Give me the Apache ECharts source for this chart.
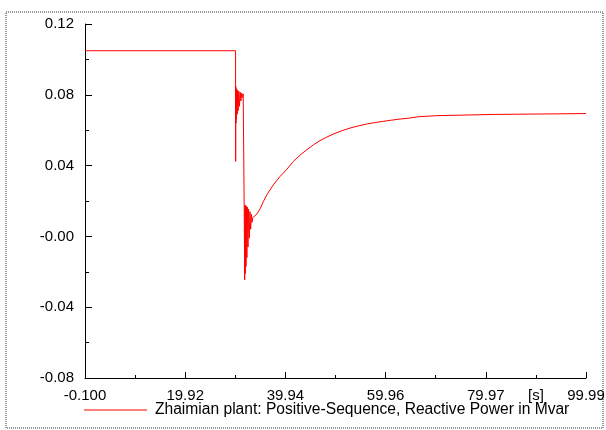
<!DOCTYPE html>
<html>
<head>
<meta charset="utf-8">
<script src="https://cdn.jsdelivr.net/npm/echarts@6.0.0/dist/echarts.min.js"></script>
<style>
  html, body { margin: 0; padding: 0; background: #fff; }
  #chart { width: 606px; height: 430px; }
</style>
</head>
<body>
<div id="chart"></div>
<script>
// time [s] and reactive power [Mvar]
const timeS = [
  -0.1, 29.98, 30.0, 30.02, 30.06, 30.1, 30.16, 30.22, 30.3, 30.4,
  30.5, 30.62, 30.76, 30.9, 31.05, 31.2, 31.35, 31.5, 31.68, 31.7,
  31.8, 31.86, 31.92, 31.98, 32.06, 32.14, 32.24, 32.34, 32.46, 32.58,
  32.72, 32.86, 33.0, 33.14, 33.28, 33.4, 33.52, 34.2, 34.86, 35.5,
  36.2, 37.52, 38.85, 40.19, 41.51, 42.85, 44.19, 45.51, 46.84, 48.2,
  49.5, 51.2, 52.84, 54.5, 56.17, 57.8, 59.49, 61.2, 62.82, 64.6,
  66.48, 70.1, 70.2, 81.4, 81.5, 99.99
];
const reactiveQ = [
  0.1049, 0.1049, 0.0424, 0.0847, 0.064, 0.0835, 0.0665, 0.083, 0.069, 0.0825,
  0.071, 0.082, 0.0735, 0.0815, 0.0765, 0.081, 0.0785, 0.0805, 0.0800, 0.0179,
  -0.0245, 0.0178, -0.021, 0.0175, -0.017, 0.017, -0.012, 0.0165, -0.006, 0.0155,
  -0.001, 0.014, 0.004, 0.0125, 0.008, 0.0105, 0.0104, 0.0125, 0.0155, 0.0195,
  0.0234, 0.0291, 0.0338, 0.0378, 0.0423, 0.0459, 0.0489, 0.0517, 0.0541, 0.0561,
  0.0578, 0.0597, 0.0612, 0.0624, 0.0635, 0.0643, 0.0650, 0.0657, 0.0663, 0.0668,
  0.0676, 0.0682, 0.0688, 0.0689, 0.0694, 0.0694
];

const xTicks = [-0.1, 19.918, 39.936, 59.954, 79.972, 99.99];
const xTickLabels = ['-0.100', '19.92', '39.94', '59.96', '79.97', '99.99'];
const xMinorTicks = [9.909, 29.927, 49.945, 69.963, 89.981];
const yTickLabels = ['-0.08', '-0.04', '-0.00', '0.04', '0.08', '0.12'];
const seriesName = 'Zhaimian plant: Positive-Sequence, Reactive Power in Mvar';

const font = 'Liberation Sans, Arial, sans-serif';
const chart = echarts.init(document.getElementById('chart'));

chart.setOption({
  animation: false,
  backgroundColor: '#fff',
  textStyle: { fontFamily: font },
  grid: { left: 85, right: 20, top: 24, bottom: 52, outerBoundsMode: 'none' },
  legend: {
    left: 84,
    top: 402,
    padding: 0,
    icon: 'rect',
    itemWidth: 63,
    itemHeight: 1,
    textStyle: { fontFamily: font, fontSize: 15.6, color: '#000', padding: [0, 0, 0, 3] },
    data: [seriesName]
  },
  xAxis: [
    {
      type: 'value',
      position: 'bottom',
      min: -0.1,
      max: 99.99,
      axisLine: { onZero: false, lineStyle: { color: '#000', width: 1 } },
      axisTick: { inside: true, length: 6, customValues: xTicks, lineStyle: { color: '#000' } },
      axisLabel: {
        customValues: xTicks,
        margin: 10,
        color: '#000',
        fontSize: 15,
        fontFamily: font,
        formatter: function (v) {
          const i = xTicks.findIndex(t => Math.abs(t - v) < 1e-6);
          return i >= 0 ? xTickLabels[i] : '';
        }
      },
      splitLine: { show: false }
    },
    {
      type: 'value',
      position: 'bottom',
      min: -0.1,
      max: 99.99,
      axisLine: { show: false, onZero: false },
      axisTick: { inside: true, length: 3, customValues: xMinorTicks, lineStyle: { color: '#000' } },
      axisLabel: {
        customValues: [89.981],
        margin: 10,
        color: '#000',
        fontSize: 15,
        fontFamily: font,
        formatter: '[s]'
      },
      splitLine: { show: false }
    }
  ],
  yAxis: {
    type: 'value',
    min: -0.08,
    max: 0.12,
    interval: 0.04,
    axisLine: { show: true, onZero: false, lineStyle: { color: '#000', width: 1 } },
    axisTick: { show: true, inside: true, length: 7, lineStyle: { color: '#000' } },
    minorTick: { show: true, splitNumber: 2, length: 4, lineStyle: { color: '#000' } },
    axisLabel: {
      margin: 11,
      color: '#000',
      fontSize: 15,
      fontFamily: font,
      formatter: function (v, i) { return yTickLabels[i]; }
    },
    splitLine: { show: false }
  },
  graphic: [{
    type: 'rect',
    shape: { x: 6, y: 12, width: 597, height: 416 },
    style: { fill: 'none', stroke: '#999', lineWidth: 2, lineDash: [1, 1] },
    silent: true
  }],
  series: [{
    name: seriesName,
    type: 'line',
    symbol: 'none',
    color: '#ff0000',
    lineStyle: { width: 1, color: '#ff0000' },
    data: timeS.map((t, i) => [t, reactiveQ[i]])
  }]
});
</script>
</body>
</html>
